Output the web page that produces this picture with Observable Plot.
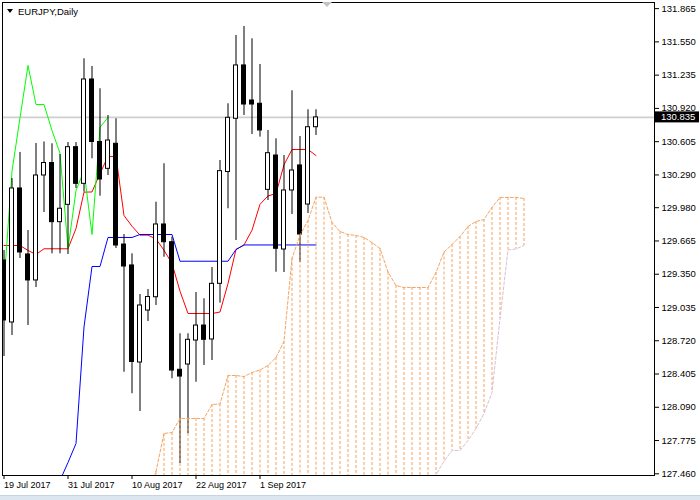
<!DOCTYPE html>
<html>
<head>
<meta charset="utf-8">
<script src="https://cdn.jsdelivr.net/npm/d3@7"></script>
<script src="https://cdn.jsdelivr.net/npm/@observablehq/plot@0.6"></script>
<style>
html, body { margin: 0; padding: 0; background: #fff; }
#wrap { position: relative; width: 700px; height: 500px; overflow: hidden; font-family: "Liberation Sans", Arial, sans-serif; }
#title { position: absolute; left: 7px; top: 5px; height: 12px; display: flex; align-items: center; font-size: 9.5px; color: #000; }
#title .tri { width: 0; height: 0; border-left: 3px solid transparent; border-right: 3px solid transparent; border-top: 4px solid #000; margin-right: 5px; }
#shift { position: absolute; left: 322px; top: 2px; width: 0; height: 0; border-left: 5px solid transparent; border-right: 5px solid transparent; border-top: 5px solid #c4c4c4; }
#tabbar { position: absolute; left: 0; top: 495px; width: 700px; height: 5px; background: #dbe6f1; border-top: 1px solid #c6d5e5; }
</style>
</head>
<body>
<div id="wrap">
  <div id="chart"></div>
  <div id="title"><span class="tri"></span><span>EURJPY,Daily</span></div>
  <div id="shift"></div>
  <div id="tabbar"></div>
</div>
<script>
// ---- bars (daily, 2017) ----
const dates = [
  "19 Jul","20 Jul","21 Jul","24 Jul","25 Jul","26 Jul","27 Jul","28 Jul","31 Jul",
  "1 Aug","2 Aug","3 Aug","4 Aug","7 Aug","8 Aug","9 Aug","10 Aug","11 Aug",
  "14 Aug","15 Aug","16 Aug","17 Aug","18 Aug","21 Aug","22 Aug","23 Aug","24 Aug","25 Aug",
  "28 Aug","29 Aug","30 Aug","31 Aug","1 Sep","4 Sep","5 Sep","6 Sep","7 Sep","8 Sep","11 Sep","12 Sep"
];
const open = [129.480,128.893,130.162,129.537,129.291,130.285,130.403,129.843,130.007,130.553,
  130.206,131.194,130.602,130.348,130.585,129.631,129.433,128.514,129.006,129.132,
  129.821,129.653,128.445,128.495,128.722,128.864,128.732,129.259,130.318,130.822,
  131.327,130.995,130.964,130.149,130.474,129.584,130.143,130.380,130.010,130.742];
const high = [129.575,130.256,130.503,129.764,130.588,130.602,130.585,130.484,130.597,130.597,
  131.390,131.317,131.106,130.853,130.822,129.726,129.543,129.158,129.205,130.032,
  130.396,129.701,128.786,128.786,129.177,129.117,129.414,130.427,130.964,131.611,
  131.696,131.579,131.336,130.711,130.632,130.474,131.087,130.654,130.907,130.907];
const low = [128.571,128.770,129.499,128.864,129.224,129.934,129.543,129.543,129.537,130.162,
  130.127,130.443,130.089,130.285,129.594,128.422,128.218,128.050,128.902,129.054,
  129.511,128.360,127.558,127.839,128.327,128.486,128.533,129.076,129.970,129.669,
  130.853,130.673,130.648,130.048,129.369,129.366,129.916,129.461,129.925,130.664];
const close = [128.912,130.162,129.556,129.291,130.285,130.403,129.843,129.970,130.553,130.206,
  131.194,130.602,130.247,130.616,129.622,129.423,128.519,129.054,129.134,129.821,
  129.653,128.438,128.381,128.729,128.864,128.729,129.259,130.326,130.831,131.327,
  130.957,130.957,130.711,130.496,129.591,130.143,130.332,129.726,130.742,130.835];

// ---- Ichimoku lines ----
const tenkan = [129.622,129.622,129.622,129.575,129.537,129.591,129.591,129.591,129.591,129.783,
  130.127,130.129,130.304,130.465,130.465,129.906,129.804,129.720,129.720,129.684,
  129.577,129.452,129.189,128.978,128.978,128.978,128.978,128.992,129.262,129.584,
  129.627,129.767,130.012,130.091,130.114,130.386,130.531,130.531,130.531,130.474];
const kijun = [null,null,null,null,null,null,null,127.397,127.567,127.747,
  128.850,129.423,129.423,129.698,129.698,129.698,129.698,129.726,129.726,129.726,
  129.726,129.726,129.473,129.473,129.473,129.473,129.473,129.473,129.473,129.584,
  129.627,129.627,129.627,129.627,129.627,129.627,129.627,129.627,129.627,129.627];
// Chikou span: drawn from bar 0 onward
const chikou = [129.259,130.326,130.831,131.327,130.957,130.957,130.711,130.496,129.591,130.143,
  130.332,129.726,130.742,130.835];
// Senkou span A, starting at bar 18 (extends 26 bars past the last bar)
const spanAStart = 18;
const spanA = [127.207,127.482,127.842,127.851,127.984,127.984,127.984,127.984,128.116,128.121,
  128.391,128.391,128.381,128.419,128.443,128.486,128.561,128.713,129.500,129.720,
  129.859,130.079,130.079,129.840,129.755,129.726,129.717,129.698,129.650,129.594,
  129.370,129.243,129.224,129.224,129.224,129.224,129.366,129.560,129.631,129.707,
  129.802,129.849,129.868,129.982,130.077,130.077,130.077,130.067];
// Senkou span B, starting at bar 53
const spanBStart = 53;
const spanB = [127.300,127.453,127.577,127.681,127.681,127.775,127.889,128.031,128.230,128.931,
  129.580,129.589,129.622];

// ---- axes ----
const priceTicks = [131.865,131.550,131.235,130.920,130.605,130.290,129.980,129.665,129.350,
  129.035,128.720,128.405,128.090,127.775,127.460];
const xTickBars = [0, 8, 16, 24, 32];
const xTickLabels = ["19 Jul 2017","31 Jul 2017","10 Aug 2017","22 Aug 2017","1 Sep 2017"];

const yDomain = [127.444, 131.923];
const xDomain = [-0.1875, 81.3125];

const candles = dates.map((d, i) => ({i, date: d, open: open[i], high: high[i], low: low[i], close: close[i]}));
const tenkanData = tenkan.map((v, i) => ({i, v}));
const kijunData = kijun.map((v, i) => ({i, v}));
const chikouData = chikou.map((v, i) => ({i, v}));
const cloud = spanA.map((a, j) => {
  const k = spanAStart + j;
  const b = k >= spanBStart ? spanB[k - spanBStart] : null;
  return {k, a, b};
});
const spanBData = spanB.map((v, j) => ({k: spanBStart + j, v}));
const last = close[close.length - 1];

const sandy = "#f4a460", thistle = "#d8bfd8";

const plot = Plot.plot({
  width: 700, height: 500,
  marginLeft: 2, marginRight: 46, marginTop: 2, marginBottom: 25,
  style: {fontFamily: "'Liberation Sans', Arial, sans-serif", fontSize: "9px", background: "#fff", color: "#000"},
  x: {type: "linear", domain: xDomain},
  y: {domain: yDomain},
  marks: [
    Plot.ruleY([last], {stroke: "#cfcfcf", strokeWidth: 1.6}),
    Plot.line(tenkanData, {x: "i", y: "v", stroke: "#ff0000", strokeWidth: 1, clip: true}),
    Plot.line(kijunData, {x: "i", y: "v", stroke: "#0000ff", strokeWidth: 1, clip: true}),
    Plot.line(chikouData, {x: "i", y: "v", stroke: "#00ff00", strokeWidth: 1, clip: true}),
    Plot.ruleX(candles, {x: "i", y1: "low", y2: "high", stroke: "#000", strokeWidth: 1, clip: true}),
    Plot.rect(candles, {
      x1: d => d.i - 0.25, x2: d => d.i + 0.25, y1: "open", y2: "close",
      fill: d => d.close >= d.open ? "#fff" : "#000", stroke: "#000", strokeWidth: 1, clip: true
    }),
    Plot.ruleX(cloud, {x: "k", y1: "a", y2: d => d.b ?? yDomain[0], stroke: sandy, strokeWidth: 1, strokeDasharray: "3,2", clip: true}),
    Plot.line(cloud, {x: "k", y: "a", stroke: sandy, strokeWidth: 1, strokeDasharray: "3,2", clip: true}),
    Plot.line(spanBData, {x: "k", y: "v", stroke: thistle, strokeWidth: 1, strokeDasharray: "3,2", clip: true}),
    Plot.frame({stroke: "#000"}),
    Plot.axisY(priceTicks, {anchor: "right", tickSize: 4, tickPadding: 3, tickFormat: d => d.toFixed(3), fontSize: 9.5, label: null}),
    Plot.axisX(xTickBars, {anchor: "bottom", tickSize: 4, tickPadding: 2, textAnchor: "start",
      tickFormat: d => xTickLabels[xTickBars.indexOf(d)], fontSize: 9, label: null})
  ]
});

document.getElementById("chart").appendChild(plot);

// current price label on the right axis
const ys = plot.scale("y");
const py = ys.apply(last);
const svg = d3.select(plot);
const g = svg.append("g");
g.append("rect").attr("x", 655).attr("y", py - 5.5).attr("width", 44).attr("height", 11).attr("fill", "#000");
g.append("text").attr("x", 661).attr("y", py).attr("dy", "0.35em").attr("fill", "#fff")
  .attr("text-anchor", "start")
  .attr("font-size", 9.5).attr("font-family", "'Liberation Sans', Arial, sans-serif").text(last.toFixed(3));
</script>
</body>
</html>
